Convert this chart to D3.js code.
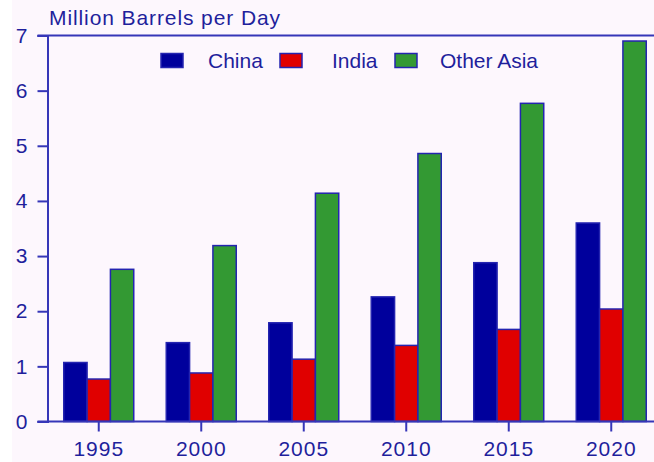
<!DOCTYPE html>
<html>
<head>
<meta charset="utf-8">
<script src="https://cdn.jsdelivr.net/npm/d3@7"></script>
<style>
  body { margin: 0; background: #ffffff; }
  text { font-family: "Liberation Sans", Arial, sans-serif; fill: #1f1f9c; }
</style>
</head>
<body>
<div id="chart"></div>
<script>
// Data
var years = ['1995', '2000', '2005', '2010', '2015', '2020'];
var series = ['China', 'India', 'Other Asia'];
var china = [1.07, 1.43, 1.79, 2.26, 2.88, 3.60];
var india = [0.77, 0.88, 1.13, 1.38, 1.67, 2.04];
var otherAsia = [2.76, 3.19, 4.14, 4.86, 5.77, 6.90];
var yTicks = [0, 1, 2, 3, 4, 5, 6, 7];

var colors = ['#00009c', '#e00000', '#339933'];
var axisColor = '#3636b8';

var width = 654, height = 462;
var plotLeft = 47.5, plotTop = 35.5, plotBottom = 421.5;

var svg = d3.select('#chart')
  .append('svg')
  .attr('width', width)
  .attr('height', height);

// background: thin white strip on the left, faint pink elsewhere
svg.append('rect')
  .attr('x', 12).attr('y', 0)
  .attr('width', width - 12).attr('height', height)
  .attr('fill', '#fdf7fd');

var x0 = d3.scaleBand()
  .domain(years)
  .range([plotLeft, plotLeft + 6 * 102.5]);
var x1 = d3.scaleBand()
  .domain(series)
  .range([-35, 35]);
var y = d3.scaleLinear()
  .domain([0, 7])
  .range([plotBottom, plotTop]);

var rows = years.map(function(yr, i) {
  return { year: yr, values: [china[i], india[i], otherAsia[i]] };
});

// bars
var groups = svg.selectAll('.group')
  .data(rows)
  .enter()
  .append('g')
  .attr('class', 'group')
  .attr('transform', function(d) {
    return 'translate(' + (x0(d.year) + x0.bandwidth() / 2) + ',0)';
  });
groups.selectAll('rect')
  .data(function(d) { return d.values.map(function(v, i) { return { s: series[i], v: v, i: i }; }); })
  .enter()
  .append('rect')
  .attr('x', function(d) { return x1(d.s); })
  .attr('y', function(d) { return y(d.v); })
  .attr('width', x1.bandwidth())
  .attr('height', function(d) { return y(0) - y(d.v); })
  .attr('fill', function(d) { return colors[d.i]; })
  .attr('stroke', '#2424b0')
  .attr('stroke-width', 1.5);

// y axis
var yAxis = d3.axisLeft(y)
  .tickValues(yTicks)
  .tickSize(10)
  .tickPadding(10)
  .tickFormat(d3.format('d'));
var gy = svg.append('g')
  .attr('transform', 'translate(' + plotLeft + ',0)')
  .call(yAxis);
gy.select('.domain').attr('stroke', axisColor).attr('stroke-width', 2);
gy.selectAll('.tick line').attr('stroke', axisColor).attr('stroke-width', 2);
gy.selectAll('.tick text')
  .attr('fill', '#1f1f9c')
  .style('font-size', '21px');

// top border across the full width
svg.append('line')
  .attr('x1', plotLeft - 10).attr('x2', width)
  .attr('y1', y(7)).attr('y2', y(7))
  .attr('stroke', axisColor).attr('stroke-width', 2);

var xAxis = d3.axisBottom(x0)
  .tickSize(10)
  .tickPadding(10);
var gx = svg.append('g')
  .attr('transform', 'translate(0,' + plotBottom + ')')
  .call(xAxis);
gx.select('.domain').remove();
gx.append('line')
  .attr('x1', plotLeft - 10).attr('x2', width)
  .attr('stroke', axisColor).attr('stroke-width', 2);
gx.selectAll('.tick line').attr('stroke', axisColor).attr('stroke-width', 2);
gx.selectAll('.tick text')
  .attr('fill', '#1f1f9c')
  .style('font-size', '21px')
  .style('letter-spacing', '1px');

// title
svg.append('text')
  .attr('x', 49)
  .attr('y', 25)
  .style('font-size', '21px')
  .style('letter-spacing', '0.9px')
  .text('Million Barrels per Day');

// legend
var legendSwatchX = [161, 280, 395];
var legendTextX = [208, 332, 440];
var legend = svg.selectAll('.legend')
  .data(series)
  .enter()
  .append('g')
  .attr('class', 'legend');
legend.append('rect')
  .attr('x', function(d, i) { return legendSwatchX[i]; })
  .attr('y', 53.5)
  .attr('width', 22)
  .attr('height', 14)
  .attr('fill', function(d, i) { return colors[i]; })
  .attr('stroke', '#2424b0')
  .attr('stroke-width', 1.5);
legend.append('text')
  .attr('x', function(d, i) { return legendTextX[i]; })
  .attr('y', 68)
  .style('font-size', '21px')
  .text(function(d) { return d; });
</script>
</body>
</html>
